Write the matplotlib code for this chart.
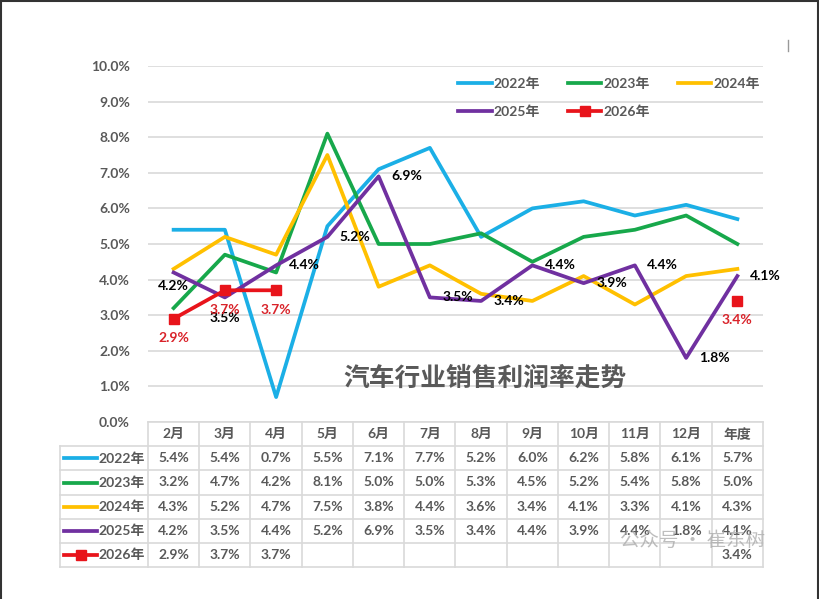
import matplotlib
matplotlib.use("Agg")
import matplotlib.pyplot as plt
import numpy as np
from matplotlib.lines import Line2D

plt.rcParams["font.family"] = ["Lato", "Noto Sans CJK SC", "DejaVu Sans"]

# data (sales profit margin, %)
months = ["2月", "3月", "4月", "5月", "6月", "7月", "8月", "9月", "10月", "11月", "12月", "年度"]
years = ["2022年", "2023年", "2024年", "2025年", "2026年"]
y2022 = [5.4, 5.4, 0.7, 5.5, 7.1, 7.7, 5.2, 6.0, 6.2, 5.8, 6.1, 5.7]
y2023 = [3.2, 4.7, 4.2, 8.1, 5.0, 5.0, 5.3, 4.5, 5.2, 5.4, 5.8, 5.0]
y2024 = [4.3, 5.2, 4.7, 7.5, 3.8, 4.4, 3.6, 3.4, 4.1, 3.3, 4.1, 4.3]
y2025 = [4.2, 3.5, 4.4, 5.2, 6.9, 3.5, 3.4, 4.4, 3.9, 4.4, 1.8, 4.1]
y2026 = [2.9, 3.7, 3.7, None, None, None, None, None, None, None, None, 3.4]
yticks = [0, 1, 2, 3, 4, 5, 6, 7, 8, 9, 10]

series = [y2022, y2023, y2024, y2025, y2026]
colors = ["#1BAFE6", "#17A84B", "#FFC000", "#7030A0", "#E8141B"]

GRAY = "#595959"
GRID = "#d9d9d9"

fig = plt.figure(figsize=(8.2, 5.99), dpi=100)
ax = fig.add_axes([148 / 820, 1 - 422 / 599, 615 / 820, 356 / 599])
x = np.arange(len(months))

handles = {}
for name, vals, c in zip(years, series, colors):
    v = np.array([np.nan if a is None else a for a in vals], dtype=float)
    if name == "2026年":
        ln, = ax.plot(x, v, color=c, lw=2.7, marker="s", ms=7, label=name, zorder=4)
    else:
        ln, = ax.plot(x, v, color=c, lw=2.7, label=name, zorder=3)
    handles[name] = ln

ax.set_xlim(-0.5, len(months) - 0.5)
ax.set_ylim(0, 10)
ax.set_yticks(yticks)
ax.set_yticklabels([f"{t:.1f}%" for t in yticks], color=GRAY, fontsize=10, fontweight="bold")
ax.tick_params(axis="y", length=0, pad=13)
ax.set_xticks([])
ax.grid(axis="y", color=GRID, lw=1.2)
for s in ax.spines.values():
    s.set_visible(False)

# data labels: 2025 to the right, 2026 below
fmt = "{:.1f}%"
for i, v in enumerate(y2025):
    if i == 0:
        off, ha = (0, -10), "center"
    elif i == 1:
        off, ha = (0, -15), "center"
    else:
        off, ha = (9, 0), "left"
    ax.annotate(fmt.format(v), (i, v), xytext=off, textcoords="offset points",
                ha=ha, va="center", fontsize=10, fontweight="bold", color="black", zorder=6)
for i, v in enumerate(y2026):
    if v is None:
        continue
    ax.annotate(fmt.format(v), (i, v), xytext=(0, -14), textcoords="offset points",
                ha="center", va="center", fontsize=10, fontweight="bold", color="#D9232A", zorder=6)

ax.text(0.548, 0.124, "汽车行业销售利润率走势", transform=ax.transAxes, ha="center", va="center",
        fontsize=18.5, fontweight="bold", color=GRAY, family=["Noto Sans CJK SC"])

# legend filled row by row: 2022 2023 2024 / 2025 2026
order = ["2022年", "2025年", "2023年", "2026年", "2024年"]
leg = ax.legend([handles[k] for k in order], order, loc="upper left",
                bbox_to_anchor=((446 - 148) / 615, (422 - 65) / 356), ncol=3,
                frameon=False, fontsize=10, handlelength=2.4, handletextpad=0.15,
                columnspacing=2.0, labelspacing=1.1)
for t in leg.get_texts():
    t.set_color(GRAY)
    t.set_fontweight("bold")

# table below the chart
tr = ax.get_xaxis_transform()
row_h = 24.2 / 356
lab_left = (60 - 148) / 51.25 - 0.5
right = len(months) - 0.5
nrows = len(years) + 1
bottom = -nrows * row_h
ax.plot([-0.5, right], [0, 0], color=GRID, lw=1.2, transform=tr, clip_on=False)
for r in range(1, nrows + 1):
    ax.plot([lab_left, right], [-r * row_h, -r * row_h], color=GRID, lw=1.2, transform=tr, clip_on=False)
for k in range(len(months) + 1):
    ax.plot([k - 0.5, k - 0.5], [0, bottom], color=GRID, lw=1.2, transform=tr, clip_on=False)
ax.plot([lab_left, lab_left], [-row_h, bottom], color=GRID, lw=1.2, transform=tr, clip_on=False)

for i, m in enumerate(months):
    ax.text(i, -0.5 * row_h, m, transform=tr, ha="center", va="center", fontsize=10,
            fontweight="bold", color=GRAY)
for r, (name, vals, c) in enumerate(zip(years, series, colors)):
    yc = -(r + 1.5) * row_h
    hx0, hx1 = (64 - 148) / 51.25 - 0.5, (97 - 148) / 51.25 - 0.5
    ax.plot([hx0, hx1], [yc, yc], color=c, lw=2.7, transform=tr, clip_on=False)
    if name == "2026年":
        ax.plot([(hx0 + hx1) / 2], [yc], color=c, marker="s", ms=7, transform=tr, clip_on=False)
    ax.text(hx1 + 0.02, yc, name, transform=tr, ha="left", va="center", fontsize=10,
            fontweight="bold", color=GRAY)
    for i, v in enumerate(vals):
        if v is None:
            continue
        ax.text(i, yc, fmt.format(v), transform=tr, ha="center", va="center", fontsize=10,
                fontweight="bold", color=GRAY)

# watermark
ax.text(0.885, -0.333, "公众号 · 崔东树", transform=ax.transAxes, ha="center", va="center",
        fontsize=14, color="#a8a8a8", alpha=0.75, family=["Noto Sans CJK SC"], zorder=7)

# outer frame and small mark
for xs, ys in [([0.001, 0.001], [0, 1]), ([0, 0.997], [0.999, 0.999]), ([0.997, 0.997], [0, 1])]:
    fig.add_artist(Line2D(xs, ys, color="#333333", lw=1.5, transform=fig.transFigure))
fig.add_artist(Line2D([788 / 820, 788 / 820], [1 - 40 / 599, 1 - 51 / 599], color="#999999",
                      lw=1, transform=fig.transFigure))

fig.savefig("out.png", dpi=100, facecolor="white")
